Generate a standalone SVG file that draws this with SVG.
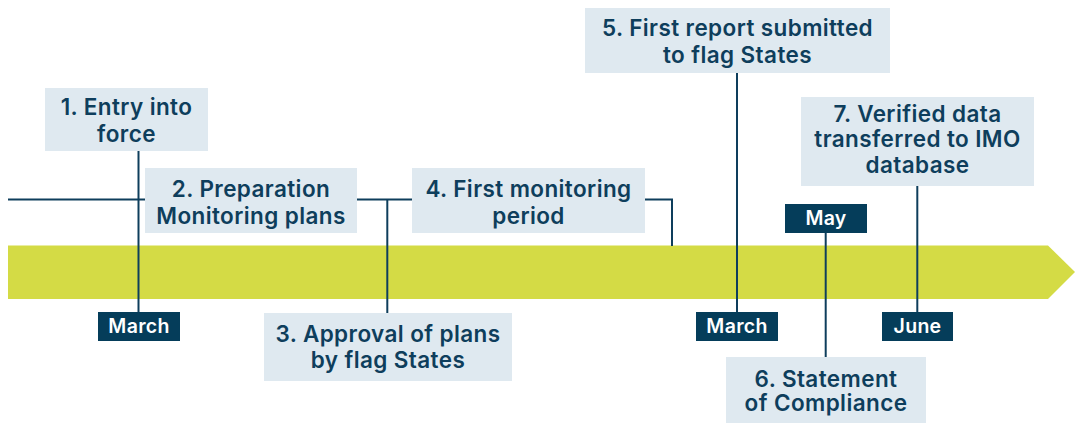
<svg xmlns="http://www.w3.org/2000/svg" width="1075" height="423" viewBox="0 0 1075 423">
<style>
.box{fill:#dfe9f0}
.t{font-family:Inter,"Noto Sans",sans-serif;font-size:22.5px;font-weight:600;letter-spacing:0.4px;fill:#0e3e5c;text-anchor:middle}
.lab{fill:#053d5a}
.lt{font-family:Inter,"Noto Sans",sans-serif;font-size:19.5px;font-weight:600;letter-spacing:0.3px;fill:#ffffff;text-anchor:middle}
.ln{stroke:#0e3e5c;stroke-width:2;fill:none}
</style>
<rect width="1075" height="423" fill="#ffffff"/>
<g id="band"><polygon points="8,245.5 1048,245.5 1075,272 1048,299 8,299" fill="#d4db45"/></g>
<g id="connectors">
<path class="ln" d="M8,199.5 H145 M357,199.5 H412 M645,199.5 H672 V246"/>
<path class="ln" d="M138.5,151 V312"/>
<path class="ln" d="M387.3,199.5 V313"/>
<path class="ln" d="M737,73 V312"/>
<path class="ln" d="M825.7,233 V357"/>
<path class="ln" d="M917.3,186 V312"/>
</g>
<g id="n1"><rect class="box" x="45" y="88" width="163" height="63"/><text class="t" x="126.5" y="115">1. Entry into</text><text class="t" x="126.5" y="141.5">force</text></g>
<g id="n2"><rect class="box" x="145" y="168" width="212" height="65"/><text class="t" x="251" y="197">2. Preparation</text><text class="t" x="251" y="223.5">Monitoring plans</text></g>
<g id="n3"><rect class="box" x="264" y="313" width="248" height="68"/><text class="t" x="388" y="341.5">3. Approval of plans</text><text class="t" x="388" y="367.5">by flag States</text></g>
<g id="n4"><rect class="box" x="412" y="168" width="233" height="65"/><text class="t" x="528.5" y="196.5">4. First monitoring</text><text class="t" x="528.5" y="223.5">period</text></g>
<g id="n5"><rect class="box" x="585" y="8" width="305" height="65"/><text class="t" x="737.5" y="36">5. First report submitted</text><text class="t" x="737.5" y="63">to flag States</text></g>
<g id="n6"><rect class="box" x="726" y="357" width="200" height="66"/><text class="t" x="826" y="386.5">6. Statement</text><text class="t" x="826" y="411">of Compliance</text></g>
<g id="n7"><rect class="box" x="801" y="97" width="233" height="89"/><text class="t" x="917.5" y="121.5">7. Verified data</text><text class="t" x="917.5" y="147">transferred to IMO</text><text class="t" x="917.5" y="173">database</text></g>
<g id="m1"><rect class="lab" x="98" y="312" width="82" height="29"/><text class="lt" x="139" y="333">March</text></g>
<g id="m2"><rect class="lab" x="696" y="312" width="82" height="29"/><text class="lt" x="737" y="333">March</text></g>
<g id="m3"><rect class="lab" x="785" y="204" width="82" height="29"/><text class="lt" x="826" y="225">May</text></g>
<g id="m4"><rect class="lab" x="882" y="312" width="71" height="29"/><text class="lt" x="917.5" y="333">June</text></g>
</svg>
